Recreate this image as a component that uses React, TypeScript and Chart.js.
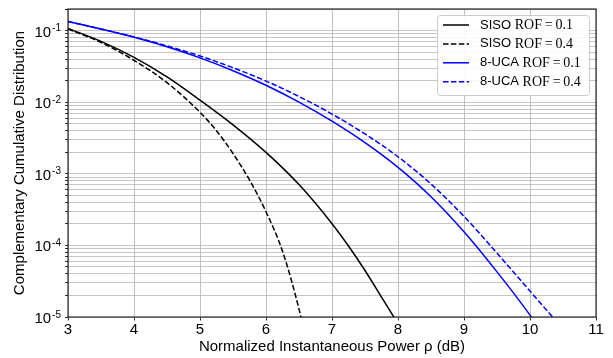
import React, { useEffect, useRef } from 'react';
import { Chart, registerables } from 'chart.js';

Chart.register(...registerables);

// ---- Data ----
const sisoR01X = [3.0, 3.5, 4.0, 4.5, 5.0, 5.5, 6.0, 6.5, 7.0, 7.25, 7.5, 7.75, 7.93, 8.05];
const sisoR01Y = [0.107, 0.0706, 0.0423, 0.0226, 0.0107, 0.00483, 0.00199, 7.06e-4, 2.01e-4, 9.8e-5, 4.46e-5, 1.9e-5, 1.02e-5, 6.5e-6];

const sisoR04X = [3.0, 3.5, 4.0, 4.5, 5.0, 5.25, 5.5, 5.75, 6.0, 6.25, 6.5, 6.6];
const sisoR04Y = [0.105, 0.0682, 0.0384, 0.0187, 0.00723, 0.00398, 0.00192, 8.2e-4, 2.95e-4, 8.3e-5, 1.29e-5, 5e-6];

const ucaR01X = [3.0, 3.5, 4.0, 4.5, 5.0, 5.5, 6.0, 6.5, 7.0, 7.5, 8.0, 8.5, 9.0, 9.5, 10.0, 10.15];
const ucaR01Y = [0.134, 0.105, 0.0805, 0.0593, 0.0415, 0.0275, 0.0172, 0.01, 0.00543, 0.00272, 0.00123, 4.79e-4, 1.55e-4, 4.27e-5, 1.06e-5, 6.5e-6];

const ucaR04X = [3.0, 3.5, 4.0, 4.5, 5.0, 5.5, 6.0, 6.5, 7.0, 7.5, 8.0, 8.5, 9.0, 9.5, 10.0, 10.33, 10.45];
const ucaR04Y = [0.134, 0.105, 0.0815, 0.0611, 0.0441, 0.0303, 0.0197, 0.012, 0.00682, 0.0036, 0.00173, 7.2e-4, 2.54e-4, 7.8e-5, 2.3e-5, 1.03e-5, 7.8e-6];

const legendSystems = ['SISO', 'SISO', '8-UCA', '8-UCA'];
const legendRof = ['0.1', '0.4', '0.1', '0.4'];
const seriesColors = ['#000000', '#000000', '#0000ff', '#0000ff'];
const seriesDashed = [false, true, false, true];

const xMin = 3;
const xMax = 11;
const yMin = 1e-5;
const yMax = 0.2;
const yDecadeExps = [-5, -4, -3, -2, -1];
const yMinorMultipliers = [1, 2, 3, 4, 5, 6, 7, 8, 9];

const xTitle = 'Normalized Instantaneous Power \u03c1 (dB)';
const yTitle = 'Complementary Cumulative Distribution';

const SANS = '"Liberation Sans", Arial, Helvetica, sans-serif';
const SERIF = '"Liberation Serif", "DejaVu Serif", serif';

function pts(xs: number[], ys: number[]) {
  return xs.map((x, i) => ({ x, y: ys[i] }));
}

const DASH = [5.5, 2.4];

const framePlugin = {
  id: 'frameAndLegend',
  afterDraw(chart: any) {
    const { ctx, chartArea } = chart;
    const ys = chart.scales.y;
    ctx.save();
    // frame
    ctx.strokeStyle = '#000';
    ctx.lineWidth = 1;
    ctx.strokeRect(chartArea.left, chartArea.top, chartArea.right - chartArea.left, chartArea.bottom - chartArea.top);

    // y tick labels with superscripts
    ctx.fillStyle = '#000';
    for (const e of yDecadeExps) {
      const py = ys.getPixelForValue(Math.pow(10, e));
      const base = '10';
      const sup = '-' + String(Math.abs(e));
      ctx.font = `15px ${SANS}`;
      const bw = ctx.measureText(base).width;
      ctx.font = `10px ${SANS}`;
      const sw = ctx.measureText(sup).width;
      const right = chartArea.left - 7;
      const bx = right - sw - bw - 1;
      ctx.textAlign = 'left';
      ctx.textBaseline = 'alphabetic';
      ctx.font = `15px ${SANS}`;
      ctx.fillText(base, bx, py + 6);
      ctx.font = `10px ${SANS}`;
      ctx.fillText(sup, bx + bw + 1, py + 0.5);
    }

    // legend
    const bx = 437.5, by = 15.5, bwid = 152, bh = 80, r = 3;
    ctx.beginPath();
    ctx.moveTo(bx + r, by);
    ctx.lineTo(bx + bwid - r, by);
    ctx.quadraticCurveTo(bx + bwid, by, bx + bwid, by + r);
    ctx.lineTo(bx + bwid, by + bh - r);
    ctx.quadraticCurveTo(bx + bwid, by + bh, bx + bwid - r, by + bh);
    ctx.lineTo(bx + r, by + bh);
    ctx.quadraticCurveTo(bx, by + bh, bx, by + bh - r);
    ctx.lineTo(bx, by + r);
    ctx.quadraticCurveTo(bx, by, bx + r, by);
    ctx.closePath();
    ctx.fillStyle = 'rgba(255,255,255,0.9)';
    ctx.fill();
    ctx.strokeStyle = '#cccccc';
    ctx.lineWidth = 1;
    ctx.stroke();

    const rowY0 = 25;
    const rowStep = 18.9;
    legendSystems.forEach((sys, i) => {
      const y = rowY0 + i * rowStep;
      ctx.beginPath();
      ctx.strokeStyle = seriesColors[i];
      ctx.lineWidth = 1.5;
      ctx.setLineDash(seriesDashed[i] ? DASH : []);
      ctx.moveTo(443, y);
      ctx.lineTo(469, y);
      ctx.stroke();
      ctx.setLineDash([]);
      ctx.fillStyle = '#000';
      ctx.textAlign = 'left';
      ctx.textBaseline = 'middle';
      ctx.font = `13px ${SANS}`;
      ctx.fillText(sys, 480, y);
      const w = ctx.measureText(sys + ' ').width;
      ctx.font = `14px ${SERIF}`;
      ctx.fillText('ROF\u2009=\u2009' + legendRof[i], 480 + w, y + 0.5);
    });
    ctx.restore();
  },
};

export default function App() {
  const ref = useRef<HTMLCanvasElement | null>(null);
  useEffect(() => {
    if (!ref.current) return;
    const datasets = [
      pts(sisoR01X, sisoR01Y),
      pts(sisoR04X, sisoR04Y),
      pts(ucaR01X, ucaR01Y),
      pts(ucaR04X, ucaR04Y),
    ].map((data, i) => ({
      label: legendSystems[i] + ' ROF = ' + legendRof[i],
      data,
      borderColor: seriesColors[i],
      borderWidth: 1.5,
      borderDash: seriesDashed[i] ? DASH : [],
      pointRadius: 0,
      fill: false,
      cubicInterpolationMode: 'monotone' as const,
    }));
    const chart = new Chart(ref.current, {
      type: 'line',
      data: { datasets },
      plugins: [framePlugin],
      options: {
        animation: false,
        responsive: true,
        maintainAspectRatio: false,
        devicePixelRatio: 1,
        layout: { padding: { left: 0, right: 17, top: 9, bottom: 0 } },
        plugins: { legend: { display: false }, tooltip: { enabled: false } },
        scales: {
          x: {
            type: 'linear',
            min: xMin,
            max: xMax,
            ticks: { stepSize: 1, color: '#000', font: { size: 15, family: SANS }, padding: 0.5 },
            grid: { color: '#b0b0b0', lineWidth: 0.8, tickColor: '#000', tickLength: 3.5, tickWidth: 0.8 },
            border: { display: false },
            title: { display: true, text: xTitle, color: '#000', font: { size: 15, family: SANS }, padding: { top: 0, bottom: 2 } },
            afterFit: (s: any) => { s.height = 41; },
          },
          y: {
            type: 'logarithmic',
            min: yMin,
            max: yMax,
            afterBuildTicks: (s: any) => {
              const t: any[] = [];
              for (const e of yDecadeExps) for (const m of yMinorMultipliers) t.push({ value: m * Math.pow(10, e), major: m === 1 });
              t.push({ value: yMax, major: false });
              s.ticks = t;
            },
            ticks: { display: false },
            grid: {
              color: '#b8b8b8',
              lineWidth: 0.8,
              tickColor: '#000',
              tickLength: 3,
              tickWidth: 0.8,
            },
            border: { display: false },
            title: { display: true, text: yTitle, color: '#000', font: { size: 15, family: SANS }, padding: { top: 11, bottom: 0 } },
            afterFit: (s: any) => { s.width = 68; },
          },
        },
      },
    });
    return () => chart.destroy();
  }, []);
  return (
    <div style={{ position: 'fixed', left: 0, top: 0, width: 613, height: 358 }}>
      <canvas ref={ref} />
    </div>
  );
}
